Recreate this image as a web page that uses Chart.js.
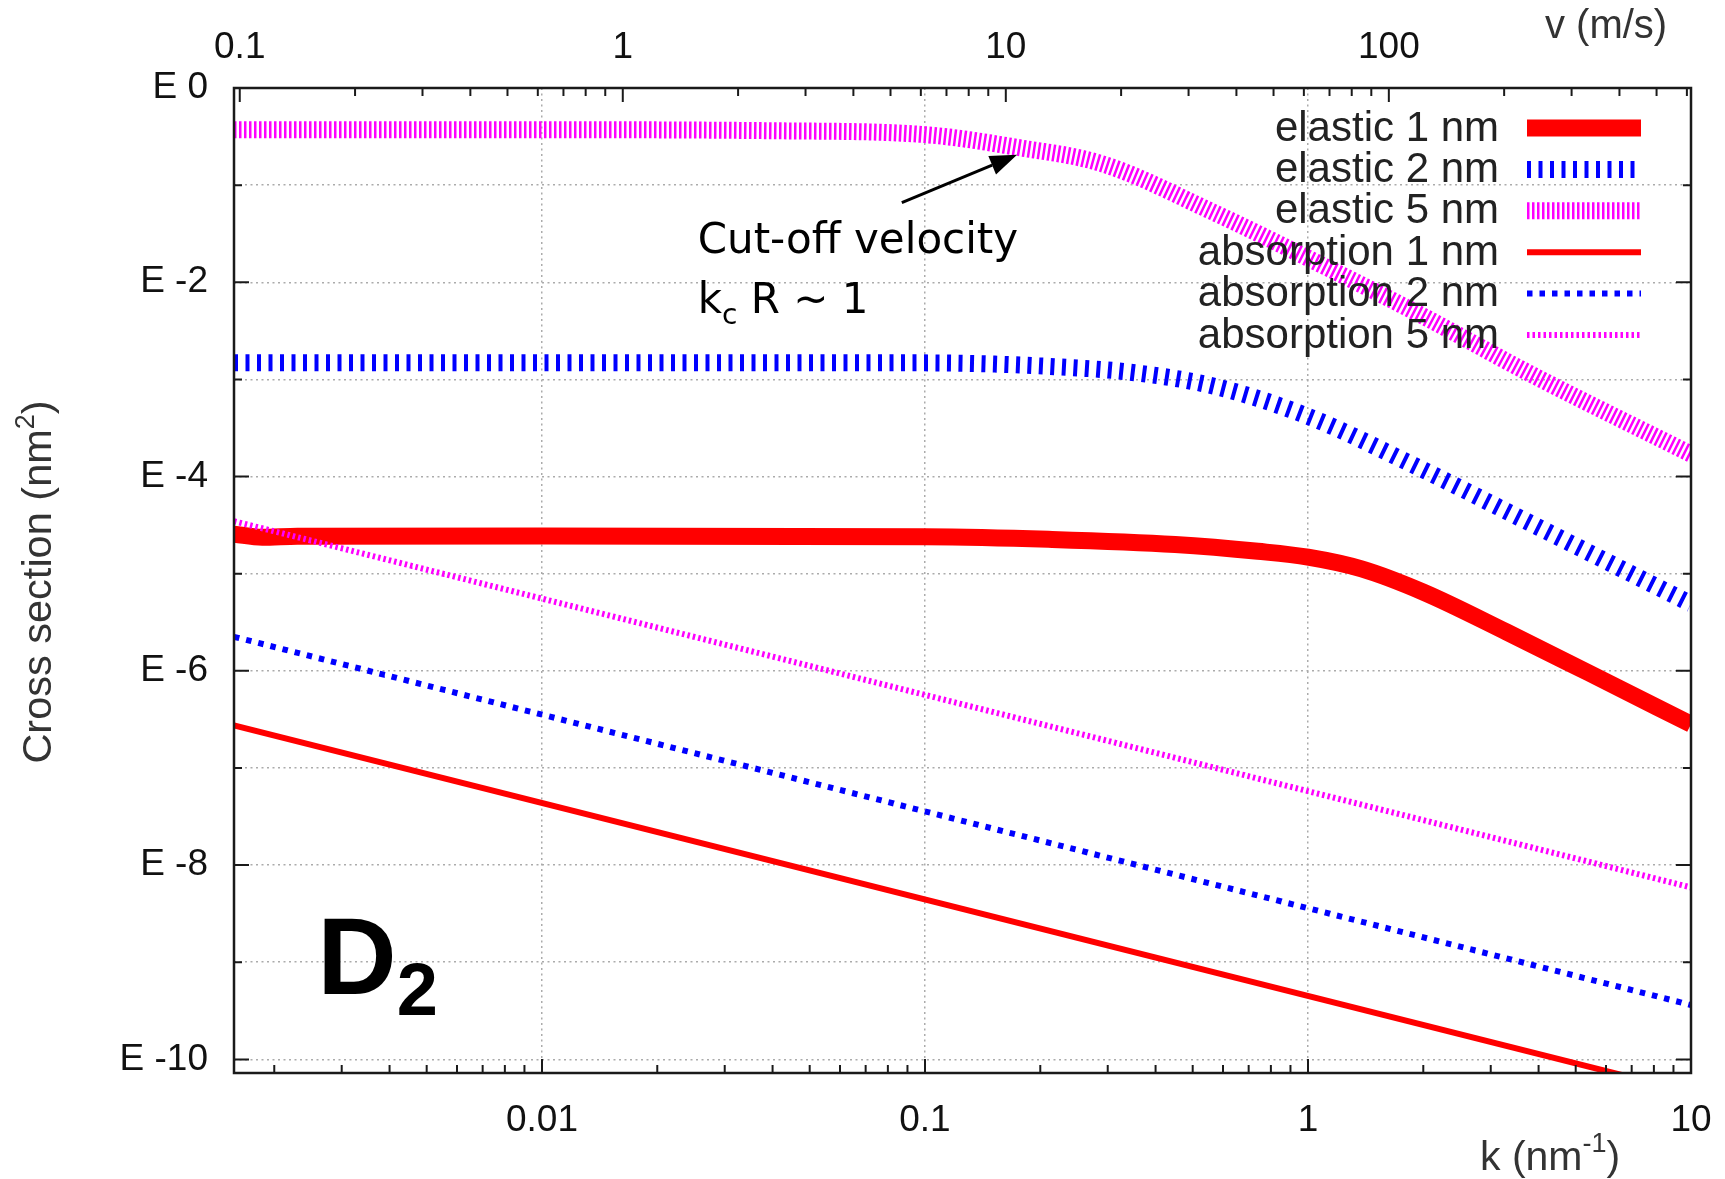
<!DOCTYPE html>
<html>
<head>
<meta charset="utf-8">
<title>D2 cross sections</title>
<script src="https://cdn.jsdelivr.net/npm/chart.js@4.4.1/dist/chart.umd.min.js"></script>
<style>
  html, body { margin: 0; padding: 0; background: #ffffff; }
  #wrap { position: relative; width: 1725px; height: 1179px; }
  canvas { display: block; }
</style>
</head>
<body>
<div id="wrap"><canvas id="chart"></canvas></div>
<script>
// Wave number k (nm^-1) and cross sections (nm^2) for each curve.
const elastic1K     = [0.00157, 0.00186, 0.0023, 0.01, 0.1, 0.21, 0.45, 0.74, 1.0, 1.38, 2.0, 3.3, 5.4, 10];
const elastic1Sigma = [2.55e-5, 2.37e-5, 2.43e-5, 2.45e-5, 2.40e-5, 2.26e-5, 2.0e-5, 1.70e-5, 1.48e-5, 1.12e-5, 6.46e-6, 2.51e-6, 9.55e-7, 2.82e-7];

const elastic2K     = [0.00157, 0.01, 0.1, 0.22, 0.354, 0.569, 1.0, 2.0, 3.76, 10];
const elastic2Sigma = [1.48e-3, 1.48e-3, 1.48e-3, 1.35e-3, 1.17e-3, 8.51e-4, 4.17e-4, 1.17e-4, 3.39e-5, 4.90e-6];

const elastic5K     = [0.00157, 0.01, 0.04, 0.1, 0.174, 0.29, 0.57, 1.06, 2.0, 3.76, 10];
const elastic5Sigma = [0.372, 0.372, 0.363, 0.331, 0.245, 0.166, 0.0519, 0.0158, 0.00447, 0.00117, 1.70e-4];

const absorption1K     = [0.00157, 10];
const absorption1Sigma = [2.75e-7, 4.57e-11];

const absorption2K     = [0.00157, 10];
const absorption2Sigma = [2.24e-6, 3.63e-10];

const absorption5K     = [0.00157, 10];
const absorption5Sigma = [3.47e-5, 5.89e-9];

// Axis ranges and tick labels
const K_MIN = 0.00157, K_MAX = 10;          // bottom axis, k (nm^-1)
const V_MIN = 0.0966,  V_MAX = 615;         // top axis, v (m/s)
const SIGMA_MIN = 7.24e-11, SIGMA_MAX = 1;  // cross section (nm^2)

const kTicks = [0.01, 0.1, 1, 10];
const kTickLabels = ['0.01', '0.1', '1', '10'];
const vTicks = [0.1, 1, 10, 100];
const vTickLabels = ['0.1', '1', '10', '100'];
const sigmaTicks = [1e-10, 1e-9, 1e-8, 1e-7, 1e-6, 1e-5, 1e-4, 1e-3, 1e-2, 1e-1, 1];
const sigmaTickLabels = ['E -10', '', 'E -8', '', 'E -6', '', 'E -4', '', 'E -2', '', 'E 0'];

// Anchors of the text and arrow, in data coordinates (k, sigma)
const arrowTail = { k: 0.087, s: 0.066 };
const arrowTip  = { k: 0.174, s: 0.205 };
const noteLine1 = { k: 0.0255, s: 0.0201 };
const noteLine2 = { k: 0.0255, s: 4.87e-3 };
const moleculeLabel = { k: 0.00259, s: 4.66e-10 };

const RED = '#ff0000', BLUE = '#0000ff', MAGENTA = '#ff00ff';
const SANS = '"Liberation Sans", Arial, Helvetica, sans-serif';

function points(ks, ss) { return ks.map((k, i) => ({ x: k, y: ss[i] })); }

function series(label, ks, ss, color, width, dash, order) {
  return {
    label, data: points(ks, ss),
    borderColor: color, backgroundColor: color,
    borderWidth: width, borderDash: dash,
    borderCapStyle: 'butt', borderJoinStyle: 'round',
    cubicInterpolationMode: 'monotone',
    pointRadius: 0, fill: false, clip: 0, order
  };
}

const datasets = [
  series('elastic 1 nm',    elastic1K,    elastic1Sigma,    RED,     17, [],         6),
  series('elastic 2 nm',    elastic2K,    elastic2Sigma,    BLUE,    17, [4, 7.5],   5),
  series('elastic 5 nm',    elastic5K,    elastic5Sigma,    MAGENTA, 17, [2.5, 2.5], 4),
  series('absorption 1 nm', absorption1K, absorption1Sigma, RED,     6,  [],         3),
  series('absorption 2 nm', absorption2K, absorption2Sigma, BLUE,    6,  [5.5, 7],   2),
  series('absorption 5 nm', absorption5K, absorption5Sigma, MAGENTA, 6,  [2.5, 3],   1)
];

function fixedTicks(values) {
  return (scale) => { scale.ticks = values.map(v => ({ value: v })); };
}

// Inward log tick marks along one edge of the plot frame
function logTicks(ctx, scale, horizontal, edge, dir, majorLen, minorLen) {
  const lo = Math.floor(Math.log10(scale.min)) - 1;
  const hi = Math.ceil(Math.log10(scale.max)) + 1;
  for (let d = lo; d <= hi; d++) {
    for (let m = 1; m <= 9; m++) {
      const v = m * Math.pow(10, d);
      if (v < scale.min * 0.999 || v > scale.max * 1.001) continue;
      const p = scale.getPixelForValue(v);
      const len = m === 1 ? majorLen : minorLen;
      ctx.beginPath();
      if (horizontal) { ctx.moveTo(p, edge); ctx.lineTo(p, edge + dir * len); }
      else { ctx.moveTo(edge, p); ctx.lineTo(edge + dir * len, p); }
      ctx.stroke();
    }
  }
}

// Text with a raised (or lowered) smaller part in the middle
function richText(ctx, parts, x, y) {
  let cx = x;
  for (const p of parts) {
    ctx.font = p.font;
    ctx.fillText(p.text, cx, y + (p.dy || 0));
    cx += ctx.measureText(p.text).width;
  }
  return cx - x;
}
function richWidth(ctx, parts) {
  let w = 0;
  for (const p of parts) { ctx.font = p.font; w += ctx.measureText(p.text).width; }
  return w;
}

const decorations = {
  id: 'decorations',
  afterDatasetsDraw(chart) {
    const { ctx, chartArea: a, scales } = chart;
    const xs = scales.x, x2 = scales.x2, ys = scales.y;
    ctx.save();

    // tick marks
    ctx.strokeStyle = '#1a1a1a';
    ctx.lineWidth = 2;
    ctx.setLineDash([]);
    logTicks(ctx, xs, true, a.bottom, -1, 14, 8);
    logTicks(ctx, x2, true, a.top, 1, 14, 8);
    sigmaTicks.forEach((v, i) => {
      const p = ys.getPixelForValue(v);
      const len = sigmaTickLabels[i] ? 15 : 8;
      ctx.beginPath();
      ctx.moveTo(a.left, p); ctx.lineTo(a.left + len, p);
      ctx.moveTo(a.right, p); ctx.lineTo(a.right - len, p);
      ctx.stroke();
    });

    // plot frame
    ctx.lineWidth = 2.5;
    ctx.strokeRect(a.left, a.top, a.right - a.left, a.bottom - a.top);

    // legend, text on the left of each line sample
    chart.data.datasets.forEach((ds, i) => {
      const y = a.top + 40 + i * 41.4;
      ctx.font = '42px ' + SANS;
      ctx.fillStyle = '#222222';
      ctx.textAlign = 'right';
      ctx.textBaseline = 'middle';
      ctx.fillText(ds.label, a.right - 192, y + 1);
      ctx.strokeStyle = ds.borderColor;
      ctx.lineWidth = ds.borderWidth;
      ctx.lineCap = 'butt';
      ctx.setLineDash(ds.borderDash || []);
      ctx.beginPath();
      ctx.moveTo(a.right - 164, y);
      ctx.lineTo(a.right - 50, y);
      ctx.stroke();
    });
    ctx.setLineDash([]);

    // axis titles
    ctx.fillStyle = '#333333';
    ctx.textAlign = 'left';
    ctx.textBaseline = 'alphabetic';
    const big = '41px ' + SANS, small = '27px ' + SANS;
    const kTitle = [{ text: 'k (nm', font: big }, { text: '-1', font: small, dy: -18 }, { text: ')', font: big }];
    richText(ctx, kTitle, 1480, 1170);
    ctx.font = '40px ' + SANS;
    ctx.fillText('v (m/s)', 1545, 38);

    const yBig = '41.5px ' + SANS, ySmall = '27px ' + SANS;
    const yTitle = [{ text: 'Cross section (nm', font: yBig }, { text: '2', font: ySmall, dy: -17 }, { text: ')', font: yBig }];
    ctx.save();
    ctx.translate(51, 582);
    ctx.rotate(-Math.PI / 2);
    richText(ctx, yTitle, -richWidth(ctx, yTitle) / 2, 0);
    ctx.restore();

    // cut-off note with arrow
    const tx = xs.getPixelForValue(arrowTail.k), ty = ys.getPixelForValue(arrowTail.s);
    const hx = xs.getPixelForValue(arrowTip.k),  hy = ys.getPixelForValue(arrowTip.s);
    const ang = Math.atan2(hy - ty, hx - tx);
    const headLen = 27, headHalf = 10;
    const bx = hx - headLen * Math.cos(ang), by = hy - headLen * Math.sin(ang);
    ctx.strokeStyle = '#000000';
    ctx.fillStyle = '#000000';
    ctx.lineWidth = 3;
    ctx.beginPath(); ctx.moveTo(tx, ty); ctx.lineTo(bx, by); ctx.stroke();
    ctx.beginPath();
    ctx.moveTo(hx, hy);
    ctx.lineTo(bx + headHalf * Math.sin(ang), by - headHalf * Math.cos(ang));
    ctx.lineTo(bx - headHalf * Math.sin(ang), by + headHalf * Math.cos(ang));
    ctx.closePath(); ctx.fill();

    const note = '42px "DejaVu Sans", Verdana, sans-serif';
    const noteSub = '28px "DejaVu Sans", Verdana, sans-serif';
    ctx.font = note;
    ctx.fillText('Cut-off velocity', xs.getPixelForValue(noteLine1.k), ys.getPixelForValue(noteLine1.s));
    richText(ctx, [{ text: 'k', font: note }, { text: 'c', font: noteSub, dy: 11 }, { text: ' R ~ 1', font: note }],
      xs.getPixelForValue(noteLine2.k), ys.getPixelForValue(noteLine2.s));

    // molecule label
    richText(ctx, [{ text: 'D', font: 'bold 110px ' + SANS }, { text: '2', font: 'bold 74px ' + SANS, dy: 21 }],
      xs.getPixelForValue(moleculeLabel.k), ys.getPixelForValue(moleculeLabel.s));

    ctx.restore();
  }
};

const tickFont = { family: SANS, size: 37 };
const gridStyle = { color: '#ababab', lineWidth: 1.5, drawTicks: false };

// Fixed box sizes so the plot frame sits where intended; no extra room for label overflow
function fitHorizontal(h) {
  return (s) => { s.height = h; s.paddingLeft = 0; s.paddingRight = 0; };
}
function fitVertical(w) {
  return (s) => { s.width = w; s.paddingTop = 0; s.paddingBottom = 0; };
}

new Chart(document.getElementById('chart'), {
  type: 'line',
  data: { datasets },
  options: {
    responsive: true,
    maintainAspectRatio: false,
    animation: false,
    devicePixelRatio: 1,
    layout: { padding: { left: 0, right: 34, top: 0, bottom: 0 } },
    plugins: { legend: { display: false }, tooltip: { enabled: false } },
    scales: {
      x: {
        type: 'logarithmic', position: 'bottom', bounds: 'data',
        min: K_MIN, max: K_MAX,
        afterBuildTicks: fixedTicks(kTicks),
        afterFit: fitHorizontal(106),
        ticks: { callback: (v, i) => kTickLabels[i], font: tickFont, color: '#111111',
                 padding: 26, autoSkip: false, maxRotation: 0, minRotation: 0 },
        grid: gridStyle,
        border: { display: false, dash: [2, 3.5] }
      },
      x2: {
        type: 'logarithmic', position: 'top', bounds: 'data',
        min: V_MIN, max: V_MAX,
        afterBuildTicks: fixedTicks(vTicks),
        afterFit: fitHorizontal(88),
        ticks: { callback: (v, i) => vTickLabels[i], font: tickFont, color: '#111111',
                 padding: 18, autoSkip: false, maxRotation: 0, minRotation: 0 },
        grid: { drawOnChartArea: false, drawTicks: false },
        border: { display: false }
      },
      y: {
        type: 'logarithmic', position: 'left', bounds: 'data',
        min: SIGMA_MIN, max: SIGMA_MAX,
        afterBuildTicks: fixedTicks(sigmaTicks),
        afterFit: fitVertical(234),
        ticks: { callback: (v, i) => sigmaTickLabels[i], font: tickFont, color: '#111111',
                 padding: 26, autoSkip: false },
        grid: gridStyle,
        border: { display: false, dash: [2, 3.5] }
      }
    }
  },
  plugins: [decorations]
});
</script>
</body>
</html>
